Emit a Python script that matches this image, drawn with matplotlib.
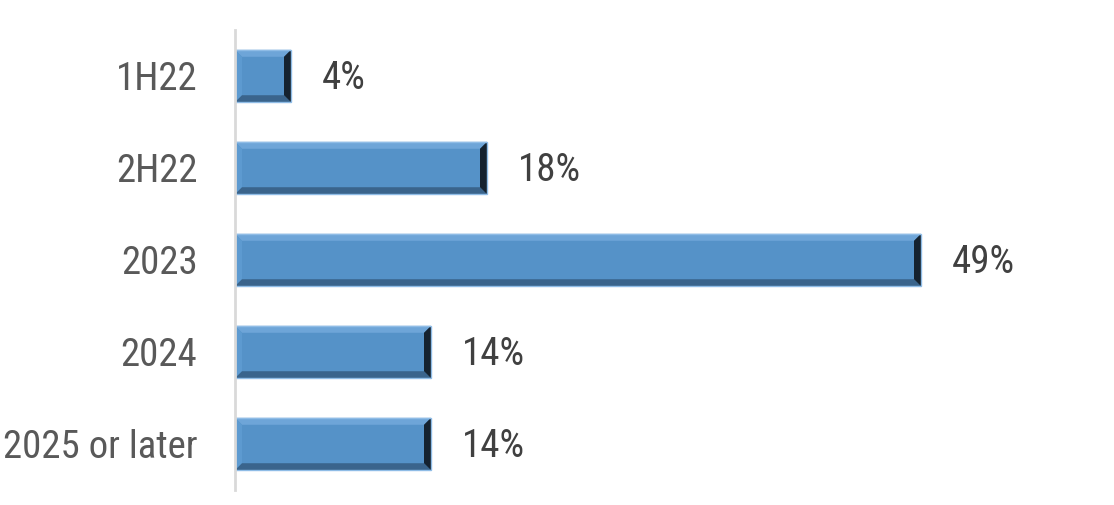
import matplotlib.pyplot as plt
from matplotlib.patches import Polygon
from matplotlib import font_manager

categories = ["1H22", "2H22", "2023", "2024", "2025 or later"]
values = [4, 18, 49, 14, 14]

names = {f.name for f in font_manager.fontManager.ttflist}
family = ["Liberation Sans Narrow", "Roboto Condensed", "Liberation Sans", "DejaVu Sans"]
family = [f for f in family if f in names] or ["DejaVu Sans"]
plt.rcParams["font.family"] = family

W, H, DPI = 1114, 505, 100
fig = plt.figure(figsize=(W / DPI, H / DPI), dpi=DPI)
ax = fig.add_axes([235 / W, 1 - 490 / H, 840 / W, 460 / H])

XMAX = 60
ax.set_xlim(0, XMAX)
ax.set_ylim(len(categories) - 0.5, -0.5)

bar_h = 0.57
bars = ax.barh(range(len(categories)), values, height=bar_h, color="#5592c8", zorder=2)

# bevel effect, sizes in pixels converted to data units
px_x = XMAX / 840
px_y = len(categories) / 460
b = 7
for rect in bars:
    x0, w = rect.get_x(), rect.get_width()
    y0, h = rect.get_y(), rect.get_height()
    x1, y1 = x0 + w, y0 + h  # y1 is visually bottom (inverted axis)
    bx, by = b * px_x, b * px_y
    ax.add_patch(Polygon([(x0, y0), (x1, y0), (x1 - bx, y0 + by), (x0 + bx, y0 + by)],
                         closed=True, color="#6ea5d8", zorder=3, lw=0))
    ax.add_patch(Polygon([(x0, y0), (x0 + bx, y0 + by), (x0 + bx, y1 - by), (x0, y1)],
                         closed=True, color="#5d9ad0", zorder=3, lw=0))
    ax.add_patch(Polygon([(x0, y1), (x0 + bx, y1 - by), (x1 - bx, y1 - by), (x1, y1)],
                         closed=True, color="#3a648c", zorder=3, lw=0))
    ax.add_patch(Polygon([(x1, y0), (x1 - bx, y0 + by), (x1 - bx, y1 - by), (x1, y1)],
                         closed=True, color="#15222f", zorder=3, lw=0))
    ax.add_patch(plt.Rectangle((x0, y0), w, h, fill=False, ec="#8fbce6", lw=1.0, zorder=4))

for i, v in enumerate(values):
    ax.annotate(f"{v}%", (v, i), xytext=(22, -2), textcoords="offset points",
                ha="left", va="center", fontsize=28, color="#404040")

ax.set_yticks(range(len(categories)))
ax.set_yticklabels(categories, fontsize=28, color="#595959")
ax.tick_params(axis="y", length=0, pad=27)
ax.set_xticks([])
for s in ["top", "right", "bottom"]:
    ax.spines[s].set_visible(False)
ax.spines["left"].set_color("#d9d9d9")
ax.spines["left"].set_linewidth(2)
ax.spines["left"].set_zorder(5)

fig.savefig("out.png", dpi=DPI)
